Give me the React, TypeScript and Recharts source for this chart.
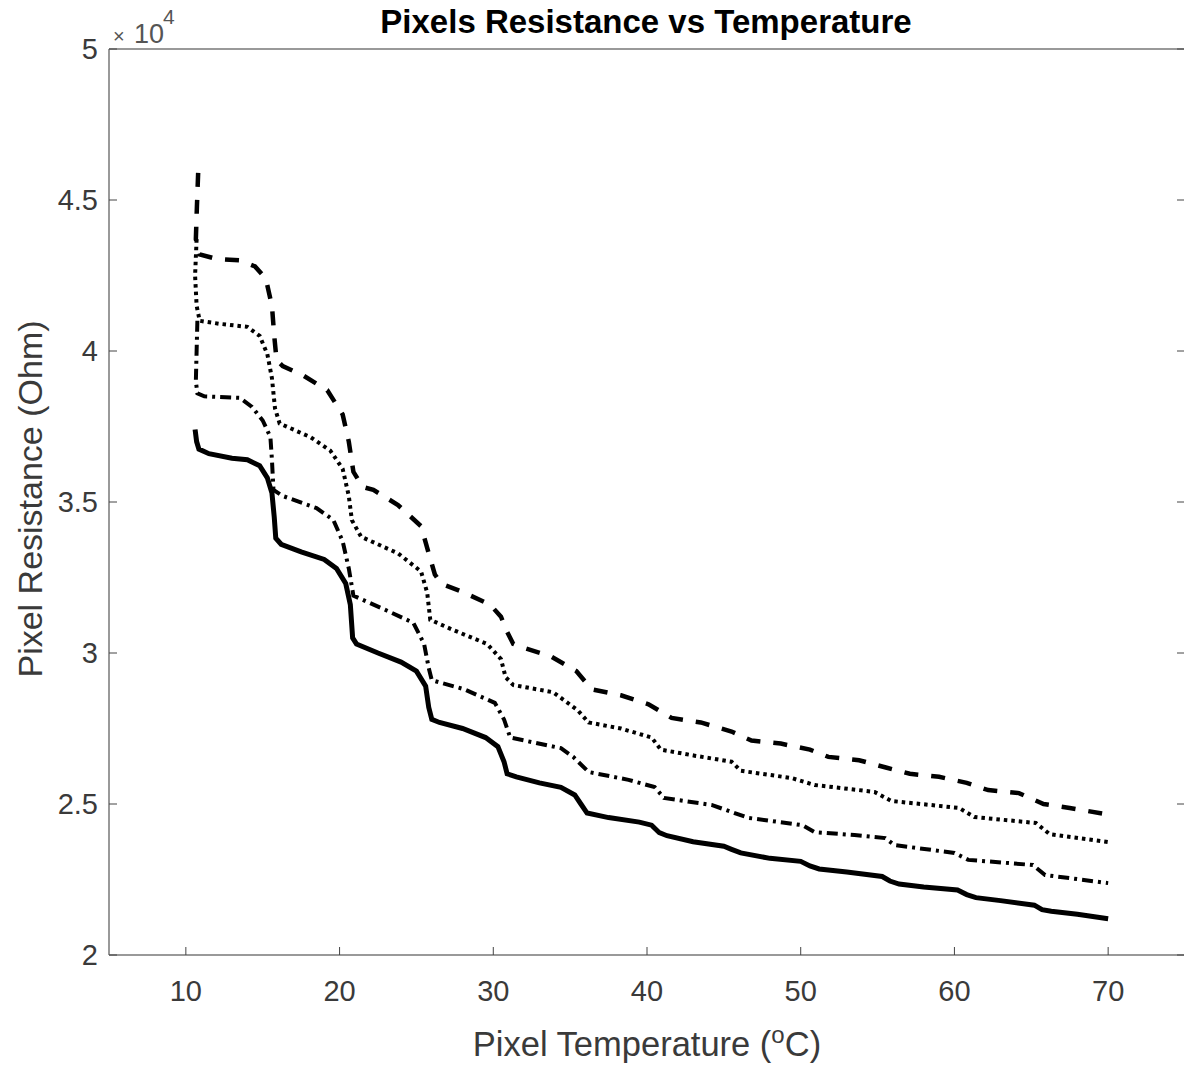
import { LineChart, Line, XAxis, YAxis } from "recharts";

type Pt = { t: number; r: number };

const xTicks = [10, 20, 30, 40, 50, 60, 70];
const yTicks = [20000, 25000, 30000, 35000, 40000, 45000, 50000];

// top curve (dashed)
const dashedSeries: Pt[] = [
  { t: 10.8, r: 45900 }, { t: 10.72, r: 44800 }, { t: 10.65, r: 43700 }, { t: 10.9, r: 43200 },
  { t: 12, r: 43050 }, { t: 13.5, r: 43000 }, { t: 14.5, r: 42800 }, { t: 15.2, r: 42400 },
  { t: 15.6, r: 41500 }, { t: 15.75, r: 40500 }, { t: 15.9, r: 39700 }, { t: 16.3, r: 39500 },
  { t: 17.6, r: 39200 }, { t: 19.2, r: 38700 }, { t: 20.2, r: 37900 }, { t: 20.6, r: 37000 },
  { t: 20.9, r: 36000 }, { t: 21.5, r: 35500 }, { t: 22.2, r: 35400 }, { t: 23.8, r: 34900 },
  { t: 25.3, r: 34200 }, { t: 25.8, r: 33300 }, { t: 26.2, r: 32600 }, { t: 26.6, r: 32300 },
  { t: 28.1, r: 32000 }, { t: 29.8, r: 31600 }, { t: 30.5, r: 31200 }, { t: 30.9, r: 30700 },
  { t: 31.3, r: 30300 }, { t: 31.8, r: 30200 }, { t: 33.7, r: 29900 }, { t: 35.4, r: 29400 },
  { t: 36.4, r: 28800 }, { t: 38.3, r: 28600 }, { t: 40.1, r: 28300 }, { t: 41.6, r: 27850 },
  { t: 43.5, r: 27700 }, { t: 45.5, r: 27400 }, { t: 46.8, r: 27100 }, { t: 48.7, r: 27000 },
  { t: 50.6, r: 26800 }, { t: 51.8, r: 26560 }, { t: 53.8, r: 26450 }, { t: 55.6, r: 26200 },
  { t: 57.1, r: 26000 }, { t: 59, r: 25900 }, { t: 60.8, r: 25700 }, { t: 62.2, r: 25460 },
  { t: 64.2, r: 25360 }, { t: 65.8, r: 25000 }, { t: 67.5, r: 24870 }, { t: 70, r: 24650 },
];

// second curve (dotted)
const dottedSeries: Pt[] = [
  { t: 10.7, r: 43700 }, { t: 10.6, r: 42500 }, { t: 10.7, r: 41500 }, { t: 10.9, r: 41000 },
  { t: 12.2, r: 40900 }, { t: 14, r: 40800 }, { t: 14.8, r: 40500 }, { t: 15.3, r: 39900 },
  { t: 15.6, r: 39100 }, { t: 15.8, r: 38100 }, { t: 16.1, r: 37600 }, { t: 18.1, r: 37150 },
  { t: 19.4, r: 36700 }, { t: 20.2, r: 36100 }, { t: 20.6, r: 35200 }, { t: 20.8, r: 34400 },
  { t: 21.4, r: 33850 }, { t: 23.8, r: 33300 }, { t: 25.3, r: 32700 }, { t: 25.7, r: 32000 },
  { t: 25.9, r: 31100 }, { t: 27.4, r: 30760 }, { t: 29.6, r: 30300 }, { t: 30.5, r: 29800 },
  { t: 30.8, r: 29200 }, { t: 31.3, r: 28940 }, { t: 33.9, r: 28700 }, { t: 35.5, r: 28100 },
  { t: 36.2, r: 27700 }, { t: 38.3, r: 27500 }, { t: 40.3, r: 27200 }, { t: 40.9, r: 26800 },
  { t: 43.1, r: 26600 }, { t: 45.5, r: 26400 }, { t: 46.1, r: 26100 }, { t: 49.4, r: 25860 },
  { t: 50.9, r: 25630 }, { t: 53.8, r: 25460 }, { t: 54.8, r: 25400 }, { t: 55.9, r: 25100 },
  { t: 60.3, r: 24870 }, { t: 61.3, r: 24570 }, { t: 65.3, r: 24370 }, { t: 66.2, r: 24000 },
  { t: 70, r: 23740 },
];

// third curve (dash-dot)
const dashDotSeries: Pt[] = [
  { t: 10.75, r: 41000 }, { t: 10.7, r: 40000 }, { t: 10.65, r: 39000 }, { t: 10.75, r: 38600 },
  { t: 11.2, r: 38500 }, { t: 13.5, r: 38450 }, { t: 14.3, r: 38150 }, { t: 15, r: 37700 },
  { t: 15.5, r: 37150 }, { t: 15.6, r: 36400 }, { t: 15.7, r: 35400 }, { t: 16.3, r: 35200 },
  { t: 18.5, r: 34800 }, { t: 19.6, r: 34400 }, { t: 20.2, r: 33700 }, { t: 20.6, r: 32800 },
  { t: 20.9, r: 31900 }, { t: 23.1, r: 31400 }, { t: 24.8, r: 31000 }, { t: 25.5, r: 30300 },
  { t: 25.8, r: 29500 }, { t: 26.0, r: 29100 }, { t: 28.1, r: 28800 }, { t: 30.1, r: 28350 },
  { t: 30.7, r: 27800 }, { t: 31.1, r: 27200 }, { t: 34.4, r: 26850 }, { t: 35.2, r: 26560 },
  { t: 36.2, r: 26060 }, { t: 38.8, r: 25800 }, { t: 40.5, r: 25560 }, { t: 41.1, r: 25200 },
  { t: 44.2, r: 24970 }, { t: 45.7, r: 24700 }, { t: 46.6, r: 24540 }, { t: 50.1, r: 24300 },
  { t: 50.9, r: 24070 }, { t: 53.5, r: 23970 }, { t: 55.5, r: 23870 }, { t: 56.1, r: 23640 },
  { t: 60, r: 23380 }, { t: 60.9, r: 23150 }, { t: 65.1, r: 22980 }, { t: 65.9, r: 22650 },
  { t: 70, r: 22380 },
];

// bottom curve (solid)
const solidSeries: Pt[] = [
  { t: 10.6, r: 37400 }, { t: 10.7, r: 37000 }, { t: 10.85, r: 36750 }, { t: 11.5, r: 36600 },
  { t: 13, r: 36450 }, { t: 14, r: 36400 }, { t: 14.8, r: 36200 }, { t: 15.3, r: 35800 },
  { t: 15.6, r: 35300 }, { t: 15.75, r: 34500 }, { t: 15.85, r: 33800 }, { t: 16.2, r: 33600 },
  { t: 17.5, r: 33350 }, { t: 19, r: 33100 }, { t: 19.8, r: 32800 }, { t: 20.4, r: 32300 },
  { t: 20.7, r: 31600 }, { t: 20.85, r: 30500 }, { t: 21.1, r: 30300 }, { t: 22.5, r: 30000 },
  { t: 24, r: 29700 }, { t: 25, r: 29400 }, { t: 25.6, r: 28900 }, { t: 25.8, r: 28200 },
  { t: 26.0, r: 27800 }, { t: 26.5, r: 27700 }, { t: 28, r: 27500 }, { t: 29.5, r: 27200 },
  { t: 30.3, r: 26900 }, { t: 30.7, r: 26400 }, { t: 30.9, r: 26000 }, { t: 31.5, r: 25900 },
  { t: 33, r: 25700 }, { t: 34.4, r: 25550 }, { t: 35.3, r: 25300 }, { t: 35.7, r: 25000 },
  { t: 36.1, r: 24700 }, { t: 37.5, r: 24550 }, { t: 39.5, r: 24400 }, { t: 40.3, r: 24300 },
  { t: 40.8, r: 24050 }, { t: 41.3, r: 23950 }, { t: 43, r: 23750 }, { t: 45, r: 23600 },
  { t: 45.5, r: 23500 }, { t: 46.1, r: 23380 }, { t: 48, r: 23200 }, { t: 50, r: 23100 },
  { t: 50.6, r: 22950 }, { t: 51.2, r: 22850 }, { t: 53, r: 22750 }, { t: 55.3, r: 22600 },
  { t: 55.8, r: 22450 }, { t: 56.4, r: 22350 }, { t: 58, r: 22250 }, { t: 60.2, r: 22150 },
  { t: 60.8, r: 22000 }, { t: 61.4, r: 21900 }, { t: 63, r: 21800 }, { t: 65.2, r: 21650 },
  { t: 65.7, r: 21500 }, { t: 66.3, r: 21450 }, { t: 68, r: 21350 }, { t: 70, r: 21200 },
];

const font = "'Liberation Sans', Arial, sans-serif";
const axisStroke = "#777";
const tickStyle = { fill: "#3a3a3a", fontSize: 29, fontFamily: font };
// top/right axes: tick marks only, no labels
const noLabel = () => <g />;

export default function App() {
  return (
    <div style={{ position: "relative", width: 1184, height: 1065, overflow: "hidden", background: "#fff" }}>
      <style>{"body{margin:0}"}</style>
      <LineChart width={1186} height={1065} margin={{ top: 48, right: 0, bottom: 50, left: 49 }}>
        <XAxis
          dataKey="t"
          type="number"
          domain={[5, 75]}
          ticks={xTicks}
          allowDataOverflow
          height={60}
          tickSize={-8}
          tickMargin={33}
          tick={tickStyle}
          axisLine={{ stroke: axisStroke, strokeWidth: 1.5 }}
          tickLine={{ stroke: "#444" }}
        />
        <XAxis
          xAxisId="top"
          orientation="top"
          type="number"
          domain={[5, 75]}
          ticks={xTicks}
          allowDataOverflow
          height={1}
          tickSize={-8}
          tick={noLabel}
          axisLine={{ stroke: axisStroke, strokeWidth: 1.5 }}
          tickLine={{ stroke: "#444" }}
        />
        <YAxis
          type="number"
          domain={[20000, 50000]}
          ticks={yTicks}
          allowDataOverflow
          width={60}
          tickSize={-8}
          tickMargin={19}
          tick={tickStyle}
          tickFormatter={(v: number) => String(v / 10000)}
          axisLine={{ stroke: axisStroke, strokeWidth: 1.5 }}
          tickLine={{ stroke: "#444" }}
        />
        <YAxis
          yAxisId="right"
          orientation="right"
          type="number"
          domain={[20000, 50000]}
          ticks={yTicks}
          allowDataOverflow
          width={1}
          tickSize={-8}
          tick={noLabel}
          axisLine={{ stroke: axisStroke, strokeWidth: 1.5 }}
          tickLine={{ stroke: "#444" }}
        />
        <Line data={dashedSeries} dataKey="r" type="linear" stroke="#000" strokeWidth={4.5}
          strokeDasharray="14 13" dot={false} isAnimationActive={false} />
        <Line data={dottedSeries} dataKey="r" type="linear" stroke="#000" strokeWidth={4}
          strokeDasharray="3.5 4" dot={false} isAnimationActive={false} />
        <Line data={dashDotSeries} dataKey="r" type="linear" stroke="#000" strokeWidth={4}
          strokeDasharray="11 5 3 5" dot={false} isAnimationActive={false} />
        <Line data={solidSeries} dataKey="r" type="linear" stroke="#000" strokeWidth={5}
          dot={false} isAnimationActive={false} />
      </LineChart>
      <svg width={1184} height={1065} style={{ position: "absolute", left: 0, top: 0, pointerEvents: "none" }}>
        <text x={646} y={33} textAnchor="middle" fontFamily={font} fontWeight="bold" fontSize={33} fill="#000">
          Pixels Resistance vs Temperature
        </text>
        <text x={113} y={43} fontFamily={font} fill="#555">
          <tspan fontSize={20}>×</tspan>
          <tspan x={134} fontSize={27}>10</tspan>
          <tspan x={163} dy={-19} fontSize={21}>4</tspan>
        </text>
        <text x={647} y={1056} textAnchor="middle" fontFamily={font} fontSize={34.5} fill="#3a3a3a">
          Pixel Temperature (<tspan dy={-13} fontSize={24}>o</tspan><tspan dy={13}>C)</tspan>
        </text>
        <text x={0} y={0} transform="translate(42,499) rotate(-90)" textAnchor="middle" fontFamily={font}
          fontSize={34} fill="#3a3a3a">
          Pixel Resistance (Ohm)
        </text>
      </svg>
    </div>
  );
}
